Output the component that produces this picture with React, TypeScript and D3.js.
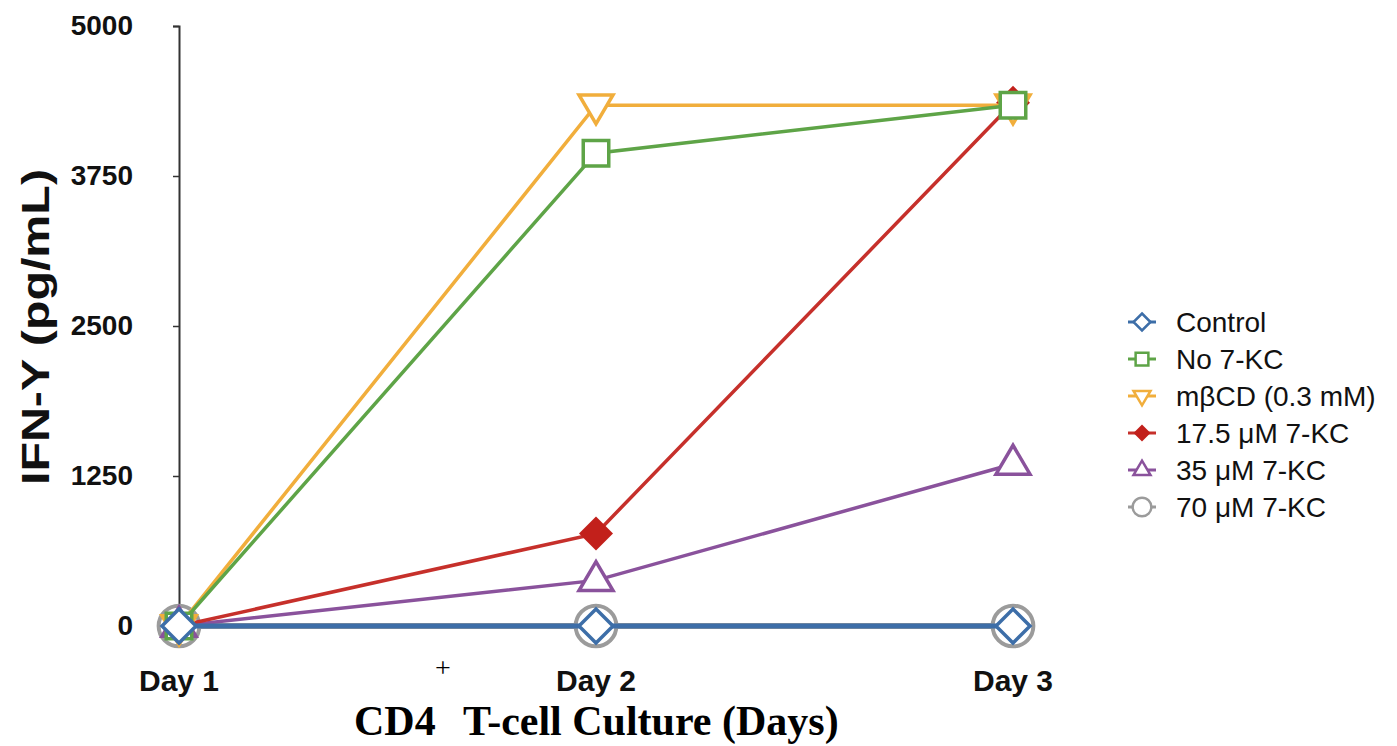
import React, { useEffect, useRef } from 'react';
import * as d3 from 'd3';

const days = ['Day 1', 'Day 2', 'Day 3'];
const yTicks = [0, 1250, 2500, 3750, 5000];

const control = [0, 0, 0];
const no7kc = [0, 3940, 4340];
const mbcd = [0, 4340, 4340];
const kc175 = [0, 770, 4360];
const kc35 = [0, 380, 1350];
const kc70 = [0, 0, 0];

const seriesNames = ['Control', 'No 7-KC', 'mβCD (0.3 mM)', '17.5 μM 7-KC', '35 μM 7-KC', '70 μM 7-KC'];
const seriesColors = ['#3d6ea8', '#5ea447', '#f1ae3c', '#c6302b', '#8a529c', '#9b9b9b'];
const seriesShapes = ['diamond', 'square', 'triDown', 'diamondFill', 'triUp', 'circle'];

const shapePath = (shape, s) => {
  // s = half size
  switch (shape) {
    case 'diamond':
    case 'diamondFill':
      return `M0,${-s}L${s},0L0,${s}L${-s},0Z`;
    case 'square':
      return `M${-s * 0.75},${-s * 0.75}H${s * 0.75}V${s * 0.75}H${-s * 0.75}Z`;
    case 'triDown':
      return `M${-s},${-s * 0.6}H${s}L0,${s * 1.1}Z`;
    case 'triUp':
      return `M${-s},${s * 0.6}H${s}L0,${-s * 1.1}Z`;
    default:
      return d3.arc()({ innerRadius: 0, outerRadius: s * 1.1, startAngle: 0, endAngle: Math.PI * 2 });
  }
};

const App = () => {
  const ref = useRef();

  useEffect(() => {
    const svg = d3.select(ref.current);
    svg.selectAll('*').remove();

    const x = d3.scalePoint().domain(days).range([179, 1013]);
    const y = d3.scaleLinear().domain([0, 5000]).range([626, 26]);

    const data = [
      { name: seriesNames[0], values: control },
      { name: seriesNames[1], values: no7kc },
      { name: seriesNames[2], values: mbcd },
      { name: seriesNames[3], values: kc175 },
      { name: seriesNames[4], values: kc35 },
      { name: seriesNames[5], values: kc70 },
    ].map((d, i) => ({ ...d, color: seriesColors[i], shape: seriesShapes[i] }));

    // y axis
    const yAxis = svg
      .append('g')
      .attr('transform', `translate(${x('Day 1')},0)`)
      .call(
        d3
          .axisLeft(y)
          .tickValues(yTicks)
          .tickFormat(d3.format('d'))
          .tickSize(6)
          .tickSizeOuter(6)
          .tickPadding(40),
      );
    yAxis.select('.domain').attr('stroke', '#333').attr('stroke-width', 2);
    yAxis.selectAll('.tick line').attr('stroke', '#333').attr('stroke-width', 1.5);
    yAxis
      .selectAll('.tick text')
      .attr('font-family', 'Liberation Sans, Arial, sans-serif')
      .attr('font-weight', 'bold')
      .attr('font-size', 28)
      .attr('fill', '#111');

    // x tick labels
    svg
      .append('g')
      .selectAll('text')
      .data(days)
      .enter()
      .append('text')
      .attr('x', d => x(d))
      .attr('y', 691)
      .attr('text-anchor', 'middle')
      .attr('font-family', 'Liberation Sans, Arial, sans-serif')
      .attr('font-weight', 'bold')
      .attr('font-size', 30)
      .attr('fill', '#111')
      .text(d => d);

    // y title
    svg
      .append('text')
      .attr('transform', 'translate(49,327) rotate(-90)')
      .attr('text-anchor', 'middle')
      .attr('font-family', 'Liberation Sans, Arial, sans-serif')
      .attr('font-weight', 'bold')
      .attr('font-size', 39)
      .attr('textLength', 316)
      .attr('lengthAdjust', 'spacingAndGlyphs')
      .attr('fill', '#111')
      .text('IFN-Y (pg/mL)');

    // x title
    svg
      .append('text')
      .attr('x', 354)
      .attr('y', 735)
      .attr('font-family', 'Liberation Serif, Times New Roman, serif')
      .attr('font-weight', 'bold')
      .attr('font-size', 42)
      .attr('fill', '#000')
      .text('CD4');
    svg
      .append('text')
      .attr('x', 443)
      .attr('y', 677)
      .attr('text-anchor', 'middle')
      .attr('font-family', 'Liberation Serif, Times New Roman, serif')
      .attr('font-size', 28)
      .attr('fill', '#000')
      .text('+');
    svg
      .append('text')
      .attr('x', 463)
      .attr('y', 735)
      .attr('font-family', 'Liberation Serif, Times New Roman, serif')
      .attr('font-weight', 'bold')
      .attr('font-size', 42)
      .attr('fill', '#000')
      .text('T-cell Culture (Days)');

    const line = d3
      .line()
      .x((d, i) => x(days[i]))
      .y(d => y(d));

    // draw back to front
    const order = [5, 4, 3, 2, 1, 0];
    order.forEach(i => {
      const s = data[i];
      const g = svg.append('g');
      g.append('path')
        .attr('d', line(s.values))
        .attr('fill', 'none')
        .attr('stroke', s.color)
        .attr('stroke-width', s.shape === 'diamond' ? 5 : s.shape === 'circle' ? 6 : 3.5);
      g.selectAll('path.mk')
        .data(s.values)
        .enter()
        .append('path')
        .attr('class', 'mk')
        .attr('transform', (d, j) => `translate(${x(days[j])},${y(d)})`)
        .attr('d', shapePath(s.shape, s.shape === 'circle' ? 18.5 : 17))
        .attr('fill', s.shape === 'diamondFill' ? '#c2201b' : '#fff')
        .attr('stroke', s.shape === 'diamondFill' ? 'none' : s.color)
        .attr('stroke-width', s.shape === 'circle' ? 4 : 3.5);
    });

    // legend
    const legend = svg.append('g').attr('transform', 'translate(1142,322)');
    const rows = legend
      .selectAll('g')
      .data(data)
      .enter()
      .append('g')
      .attr('transform', (d, i) => `translate(0,${i * 37})`);
    rows
      .append('line')
      .attr('x1', -14)
      .attr('x2', 14)
      .attr('stroke', d => d.color)
      .attr('stroke-width', 3);
    rows
      .append('path')
      .attr('d', d => shapePath(d.shape, 8.5))
      .attr('fill', d => (d.shape === 'diamondFill' ? '#c2201b' : '#fff'))
      .attr('stroke', d => (d.shape === 'diamondFill' ? 'none' : d.color))
      .attr('stroke-width', 2.5);
    rows
      .append('text')
      .attr('x', 34)
      .attr('y', 10)
      .attr('font-family', 'Liberation Sans, Arial, sans-serif')
      .attr('font-size', 28)
      .attr('fill', '#111')
      .text(d => d.name);
  }, []);

  return (
    <svg
      ref={ref}
      width={1397}
      height={746}
      style={{ position: 'absolute', left: 0, top: 0, background: '#fff' }}
    />
  );
};

export default App;
